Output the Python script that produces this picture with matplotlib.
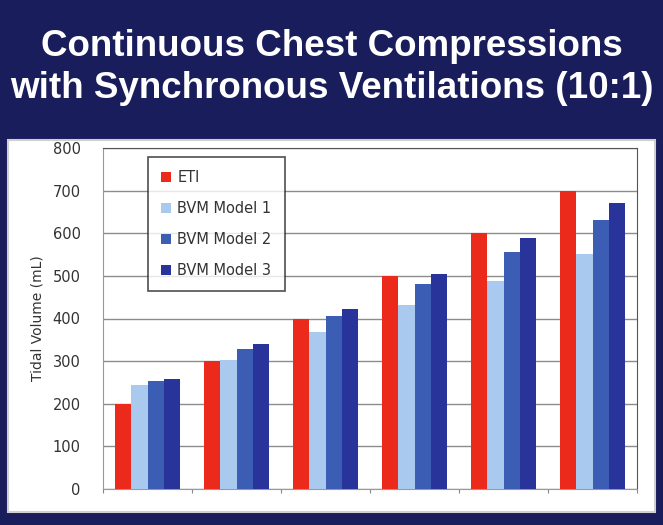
import numpy as np
import matplotlib.pyplot as plt
from matplotlib.patches import Rectangle

series = ['ETI', 'BVM Model 1', 'BVM Model 2', 'BVM Model 3']
eti = [200, 300, 400, 500, 600, 700]
bvm1 = [244, 302, 369, 432, 487, 551]
bvm2 = [253, 328, 406, 481, 557, 632]
bvm3 = [259, 340, 422, 504, 588, 670]
colors = ['#ec2a1c', '#a9c9ee', '#3b5db3', '#28349a']

W, H = 663, 525
fig = plt.figure(figsize=(W / 100, H / 100), dpi=100)
fig.patch.set_facecolor('#1a1d5c')

# white panel behind the chart
panel = Rectangle((8 / W, 1 - 512 / H), (655 - 8) / W, (512 - 140) / H,
                  transform=fig.transFigure, facecolor='white',
                  edgecolor='#cfcfcf', linewidth=1.5, zorder=-5)
fig.patches.append(panel)

fig.text(0.5, 1 - 46 / H, 'Continuous Chest Compressions', color='white',
         fontsize=26.5, fontweight='bold', ha='center', va='center',
         family='Liberation Sans')
fig.text(0.5, 1 - 89 / H, 'with Synchronous Ventilations (10:1)', color='white',
         fontsize=26.5, fontweight='bold', ha='center', va='center',
         family='Liberation Sans')

ax = fig.add_axes([103 / W, 1 - 489 / H, (637 - 103) / W, (489 - 148) / H])
ax.set_zorder(2)
ax.set_facecolor('white')

x = np.arange(len(eti))
bw = 0.18
for i, (vals, c) in enumerate(zip([eti, bvm1, bvm2, bvm3], colors)):
    ax.bar(x + (i - 1.5) * bw, vals, bw, color=c, label=series[i], zorder=3)

ax.set_xlim(-0.5, len(eti) - 0.5)
ax.set_ylim(0, 800)
ax.set_yticks(range(0, 801, 100))
ax.set_xticks(np.arange(-0.5, len(eti), 1))
ax.set_xticklabels([])
ax.tick_params(axis='x', length=3, color='#888888')
ax.tick_params(axis='y', length=0, labelsize=10.5, colors='#333333', pad=16)
ax.grid(axis='y', color='#8c8c8c', linewidth=1, zorder=0)
for s in ax.spines.values():
    s.set_color('#555555')
ax.spines['left'].set_color('#999999')
ax.spines['bottom'].set_color('#999999')
ax.set_ylabel('Tidal Volume (mL)', fontsize=10, color='#333333', labelpad=6)

leg = ax.legend(loc='upper left', bbox_to_anchor=(45 / 534, 1 - 9 / 341),
                frameon=True, fancybox=False, fontsize=10.5, handlelength=0.7,
                handleheight=0.7, handletextpad=0.4, labelspacing=1.1,
                borderpad=0.9, borderaxespad=0)
leg.get_frame().set_edgecolor('#222222')
leg.get_frame().set_linewidth(1.2)
for t in leg.get_texts():
    t.set_color('#333333')

fig.savefig('out.png', dpi=100, facecolor=fig.get_facecolor())
